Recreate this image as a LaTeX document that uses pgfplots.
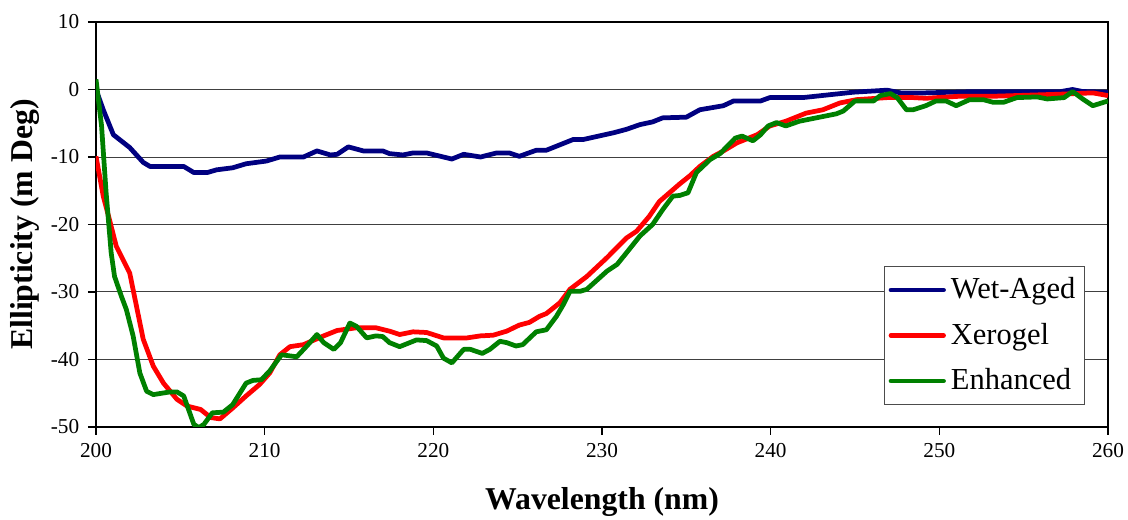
\documentclass[border=0pt]{standalone}
\usepackage{fontspec}
\setmainfont{Liberation Serif}
\usepackage{pgfplots}
\pgfplotsset{compat=1.18}
\definecolor{WetC}{HTML}{000080}
\definecolor{XerC}{HTML}{FF0000}
\definecolor{EnhC}{HTML}{008000}

\begin{document}
\begin{tikzpicture}
\useasboundingbox (-38.4pt,-37.2pt) rectangle (412.8pt,170.8pt);
\begin{axis}[
  scale only axis, width=404.8pt, height=162pt,
  xmin=200, xmax=260, ymin=-50, ymax=10,
  xtick={200,210,...,260}, ytick={-50,-40,...,10},
  tick align=outside, major tick length=3.2pt,
  xtick pos=bottom, ytick pos=left,
  axis line style={black,line width=0.6pt},
  tick style={black,line width=0.5pt},
  ymajorgrids=true, major grid style={black!75,line width=0.4pt},
  /pgf/number format/assume math mode=true,
  ticklabel style={font=\fontsize{8.5}{10}\selectfont},
  xlabel={Wavelength (nm)}, ylabel={Ellipticity (m Deg)},
  label style={font=\fontsize{12.7}{15}\selectfont\bfseries},
  xlabel style={at={(axis description cs:0.5,-0.185)},anchor=center},
  ylabel style={at={(axis description cs:-0.0705,0.5)},anchor=center,rotate=0},
  legend cell align=left,
  legend image code/.code={\draw[#1,line cap=round] (0pt,0pt) -- (21pt,0pt);},
  legend style={at={(0.977,0.054)},anchor=south east,draw=black!70,
    line width=0.4pt,fill=white,font=\fontsize{12.2}{14}\selectfont,
    inner xsep=1.5pt,inner ysep=2.5pt,row sep=4.2pt},
  every axis plot/.append style={line width=1.9pt,line join=round},
]
\addplot[WetC] coordinates {
 (200,0) (200.43,-3) (201.03,-6.7) (202.0,-8.6) (202.8,-10.8) (203.2,-11.4)
 (205.2,-11.4) (205.8,-12.3) (206.6,-12.3) (207.15,-11.9) (208.1,-11.6)
 (208.9,-11.0) (210.1,-10.6) (210.9,-10.0) (212.3,-10.0) (213.1,-9.1)
 (213.9,-9.7) (214.3,-9.6) (214.96,-8.5) (215.85,-9.1) (217.0,-9.1)
 (217.4,-9.5) (218.2,-9.7) (218.8,-9.4) (219.6,-9.4) (221.1,-10.3)
 (221.8,-9.6) (222.8,-10.0) (223.75,-9.4) (224.5,-9.4) (225.1,-9.9)
 (226.1,-9.0) (226.7,-9.0) (228.3,-7.4) (228.9,-7.4) (230.7,-6.4)
 (231.45,-5.9) (232.25,-5.2) (233.0,-4.8) (233.6,-4.2) (235.0,-4.1)
 (235.8,-3.0) (237.2,-2.4) (237.8,-1.7) (239.4,-1.7) (239.95,-1.2)
 (241.9,-1.2) (244.9,-0.4) (246.9,-0.1) (247.7,-0.5) (249.2,-0.5)
 (251.6,-0.35) (257.1,-0.35) (257.9,0) (258.5,-0.3) (260,-0.4)};
\addlegendentry{Wet-Aged}
\addplot[XerC] coordinates {
 (200,-9.9) (200.43,-15.8) (200.8,-19.3) (201.2,-23.2) (201.6,-25.2)
 (202.0,-27.2) (202.4,-32.1) (202.8,-37.0) (203.4,-41.0) (204.0,-43.5)
 (204.8,-45.9) (205.4,-46.9) (206.2,-47.4) (206.8,-48.6) (207.35,-48.8)
 (208.1,-47.2) (208.9,-45.4) (209.7,-43.7) (210.3,-42.0) (210.9,-39.3)
 (211.5,-38.1) (212.3,-37.8) (213.5,-36.5) (214.3,-35.7) (215.45,-35.3)
 (216.6,-35.3) (217.4,-35.8) (218.0,-36.3) (218.8,-35.9) (219.6,-36.0)
 (220.6,-36.8) (222.0,-36.8) (222.8,-36.5) (223.55,-36.4) (224.35,-35.8)
 (225.1,-34.9) (225.7,-34.5) (226.3,-33.6) (226.7,-33.2) (227.5,-31.6)
 (228.1,-29.6) (229.1,-27.7) (230.3,-24.9) (231.45,-22.0) (232.05,-21.0)
 (232.8,-18.8) (233.4,-16.6) (234.6,-14.0) (235.2,-12.8) (235.8,-11.4)
 (236.6,-9.9) (237.2,-9.1) (238.0,-7.9) (239.2,-6.7) (239.95,-5.4)
 (240.9,-4.7) (242.1,-3.5) (243.1,-3.0) (244.1,-2.0) (245.1,-1.5)
 (246.9,-1.2) (248.45,-1.2) (249.2,-1.3) (251.2,-1.0) (253.2,-1.0)
 (257.1,-0.7) (259.1,-0.5) (260,-0.9)};
\addlegendentry{Xerogel}
\addplot[EnhC] coordinates {
 (200,1.5) (200.33,-5.4) (200.6,-15.3) (200.9,-24.2) (201.1,-27.7)
 (201.5,-30.6) (201.8,-32.6) (202.2,-36.5) (202.6,-42.0) (203.0,-44.7)
 (203.4,-45.2) (204.4,-44.8) (204.8,-44.8) (205.2,-45.4) (205.8,-49.6)
 (206.1,-50.1) (206.4,-49.6) (206.9,-47.9) (207.55,-47.8) (208.1,-46.7)
 (208.9,-43.5) (209.3,-43.1) (209.8,-43.0) (210.3,-41.7) (211.0,-39.3)
 (211.9,-39.6) (212.5,-38.0) (213.1,-36.3) (213.5,-37.5) (214.1,-38.5)
 (214.5,-37.5) (215.05,-34.6) (215.45,-35.1) (216.05,-36.8) (216.6,-36.5)
 (217.0,-36.6) (217.4,-37.5) (218.0,-38.1) (219.0,-37.1) (219.6,-37.2)
 (220.2,-38.0) (220.6,-39.8) (221.1,-40.5) (221.8,-38.5) (222.2,-38.5)
 (222.9,-39.1) (223.35,-38.5) (223.95,-37.3) (224.35,-37.5) (224.9,-38.0)
 (225.3,-37.8) (226.1,-35.9) (226.7,-35.6) (227.3,-33.6) (227.7,-31.9)
 (228.1,-29.9) (228.7,-29.9) (229.1,-29.6) (230.3,-26.9) (230.9,-25.9)
 (231.45,-24.2) (232.25,-21.7) (233.0,-20.0) (233.6,-17.8) (234.2,-15.8)
 (234.6,-15.7) (235.1,-15.3) (235.6,-12.3) (236.4,-10.4) (237.0,-9.5)
 (237.9,-7.2) (238.3,-6.9) (238.95,-7.6) (239.4,-6.7) (239.85,-5.4)
 (240.35,-4.9) (240.9,-5.4) (241.7,-4.7) (242.9,-4.1) (243.9,-3.6)
 (244.3,-3.2) (245.0,-1.7) (246.1,-1.7) (246.5,-0.9) (247.1,-0.6)
 (247.5,-1.2) (248.05,-3.0) (248.45,-3.0) (249.2,-2.4) (249.8,-1.7)
 (250.4,-1.7) (251.0,-2.4) (251.8,-1.5) (252.6,-1.5) (253.2,-1.9)
 (253.8,-1.9) (254.6,-1.2) (255.8,-1.1) (256.4,-1.4) (257.4,-1.2)
 (257.9,-0.3) (258.5,-1.4) (259.1,-2.4) (260,-1.7)};
\addlegendentry{Enhanced}
\end{axis}
\end{tikzpicture}
\end{document}
